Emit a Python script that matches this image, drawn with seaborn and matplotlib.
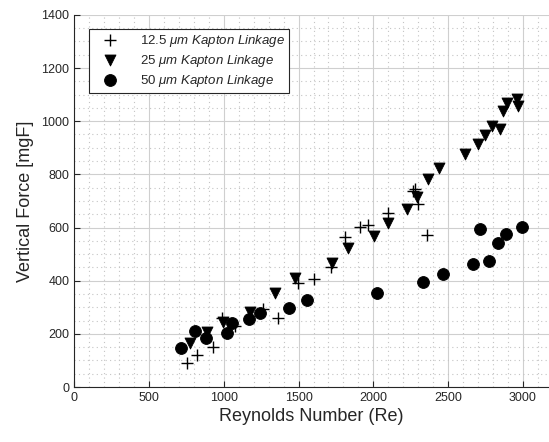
import matplotlib
matplotlib.use("Agg")
import matplotlib.pyplot as plt
import seaborn as sns
import numpy as np
import pandas as pd
from matplotlib.ticker import MultipleLocator

re_125 = [752, 819, 926, 986, 1075, 1260, 1366, 1499, 1604, 1715, 1811, 1911, 1967, 2100, 2265, 2279, 2301, 2357]
f_125 = [92, 120, 149, 259, 230, 292, 258, 393, 405, 453, 566, 603, 610, 656, 738, 744, 689, 572]

re_25 = [775, 886, 998, 1176, 1343, 1477, 1722, 1833, 2005, 2101, 2223, 2290, 2368, 2441, 2613, 2702, 2747, 2791, 2847, 2869, 2892, 2962, 2969]
f_25 = [164, 208, 246, 283, 353, 409, 468, 522, 568, 618, 669, 714, 782, 823, 877, 915, 948, 982, 970, 1040, 1070, 1083, 1058]

re_50 = [712, 808, 882, 1020, 1053, 1172, 1243, 1439, 1555, 2023, 2334, 2464, 2664, 2713, 2775, 2836, 2887, 2992]
f_50 = [146, 212, 183, 204, 240, 255, 280, 296, 327, 353, 396, 425, 463, 593, 475, 541, 576, 601]

labels = ["12.5 $\\mu\\it{m\\ Kapton\\ Linkage}$",
          "25 $\\mu\\it{m\\ Kapton\\ Linkage}$",
          "50 $\\mu\\it{m\\ Kapton\\ Linkage}$"]

sns.set_style("ticks")
plt.rcParams['font.family'] = ['Liberation Sans', 'DejaVu Sans']
plt.rcParams['mathtext.fontset'] = 'custom'
plt.rcParams['mathtext.rm'] = 'Liberation Sans'
plt.rcParams['mathtext.it'] = 'Liberation Sans:italic'

fig = plt.figure(figsize=(5.49, 4.42), dpi=100)
ax = fig.add_axes([0.135, 0.1244, 0.865, 0.842])

d1 = pd.DataFrame({"Re": re_125, "F": f_125})
d2 = pd.DataFrame({"Re": re_25, "F": f_25})
d3 = pd.DataFrame({"Re": re_50, "F": f_50})

sns.scatterplot(data=d1, x="Re", y="F", marker="+", s=85, color="black", linewidth=1.0, ax=ax, label=labels[0], zorder=3)
sns.scatterplot(data=d2, x="Re", y="F", marker="v", s=62, color="black", edgecolor="black", ax=ax, label=labels[1], zorder=3)
sns.scatterplot(data=d3, x="Re", y="F", marker="o", s=72, color="black", edgecolor="black", ax=ax, label=labels[2], zorder=3)

ax.set_xlim(0, 3174)
ax.set_ylim(0, 1400)
ax.xaxis.set_major_locator(MultipleLocator(500))
ax.xaxis.set_minor_locator(MultipleLocator(100))
ax.yaxis.set_major_locator(MultipleLocator(200))
ax.yaxis.set_minor_locator(MultipleLocator(50))
ax.grid(which="major", color="#cfcfcf", linewidth=0.8, linestyle="-")
ax.grid(which="minor", color="#c4c4c4", linewidth=0.8, linestyle=(0, (1, 3)))
ax.set_axisbelow(True)
ax.tick_params(which="major", direction="in", length=4, labelsize=9, colors="#262626", labelcolor="#262626")
ax.tick_params(which="minor", direction="in", length=0)
for s in ["top", "right"]:
    ax.spines[s].set_visible(False)
for s in ["left", "bottom"]:
    ax.spines[s].set_color("#262626")
    ax.spines[s].set_linewidth(0.8)

ax.set_xlabel("Reynolds Number (Re)", fontsize=13, color="#262626", labelpad=3)
ax.set_ylabel("Vertical Force [mgF]", fontsize=13, color="#262626", labelpad=5)

leg = ax.legend(loc="upper left", bbox_to_anchor=(0.031, 0.962), fontsize=9.5, frameon=True,
                fancybox=False, edgecolor="#262626", framealpha=1, handletextpad=1.0,
                handlelength=2.6, borderpad=0.3, labelspacing=0.3, borderaxespad=0)
leg.get_frame().set_linewidth(0.8)

fig.savefig("out.png", dpi=100)
